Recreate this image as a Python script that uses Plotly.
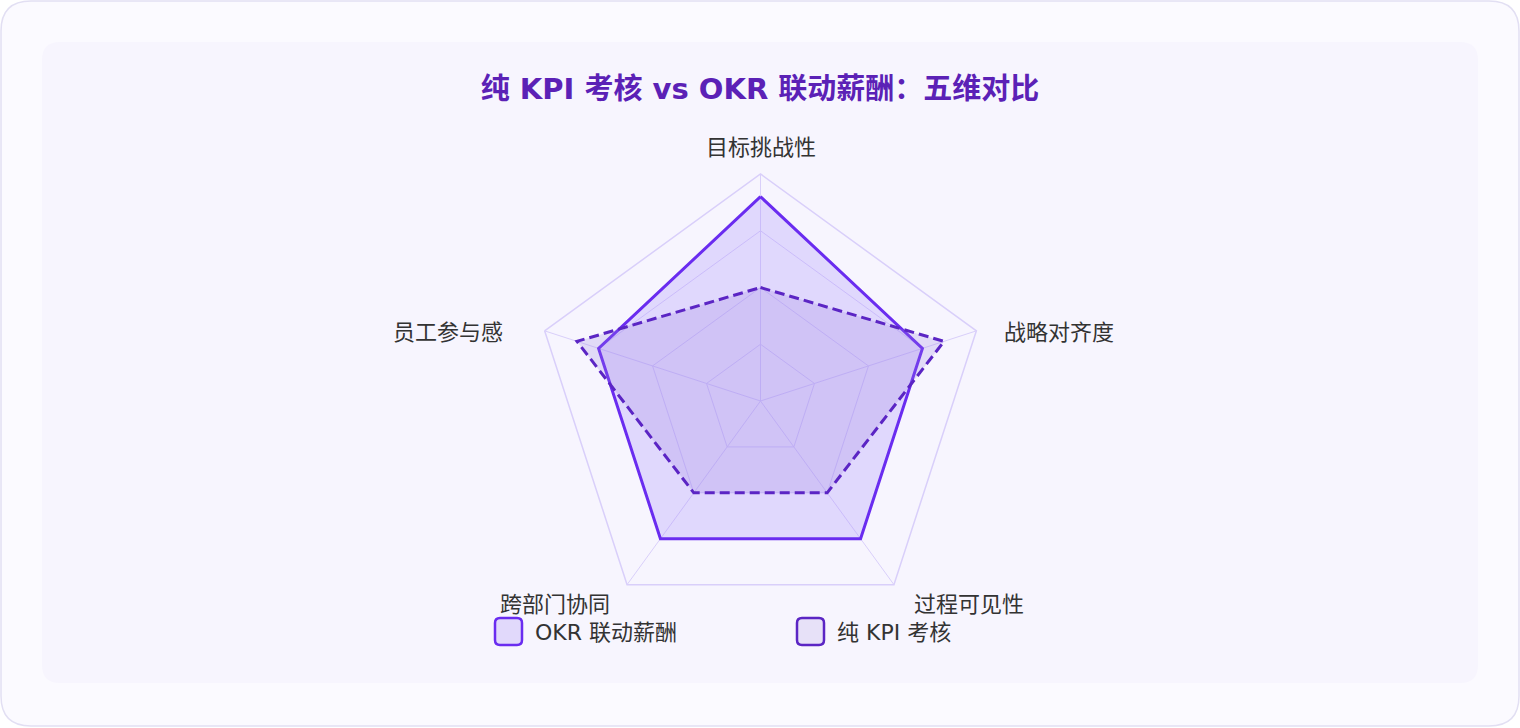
import math
import plotly.graph_objects as go

# 五个维度（顺时针，从正上方开始）
dimensions = ["目标挑战性", "战略对齐度", "过程可见性", "跨部门协同", "员工参与感"]
okr_scores = [90, 75, 75, 75, 75]
kpi_scores = [50, 85, 50, 50, 85]
series_names = ["OKR 联动薪酬", "纯 KPI 考核"]
line_colors = ["#6a2cf0", "#5b25c4"]
fill_colors = ["rgba(167,139,250,0.28)", "rgba(150,125,225,0.22)"]
legend_fills = ["#e1d9fb", "#e7e1f8"]

W, H = 1520, 728
FONT = "DejaVu Sans, Noto Sans CJK SC, sans-serif"


def px(x):
    return x / W


def py(y):
    return 1 - y / H


def rounded_rect(x0, y0, x1, y1, r):
    # 像素坐标的圆角矩形 -> paper坐标路径（margin为0）
    return (
        f"M {px(x0 + r)},{py(y0)} L {px(x1 - r)},{py(y0)} "
        f"Q {px(x1)},{py(y0)} {px(x1)},{py(y0 + r)} "
        f"L {px(x1)},{py(y1 - r)} Q {px(x1)},{py(y1)} {px(x1 - r)},{py(y1)} "
        f"L {px(x0 + r)},{py(y1)} Q {px(x0)},{py(y1)} {px(x0)},{py(y1 - r)} "
        f"L {px(x0)},{py(y0 + r)} Q {px(x0)},{py(y0)} {px(x0 + r)},{py(y0)} Z"
    )


fig = go.Figure()

for name, scores, lc, fc, dash in zip(series_names, [okr_scores, kpi_scores],
                                      line_colors, fill_colors, ["solid", "10px,5px"]):
    fig.add_trace(go.Scatterpolar(
        r=scores + scores[:1],
        theta=dimensions + dimensions[:1],
        name=name,
        mode="lines",
        fill="toself",
        fillcolor=fc,
        line=dict(color=lc, width=3, dash=dash),
        showlegend=False,
    ))

# 背景卡片
shapes = [
    dict(type="path", xref="paper", yref="paper", layer="below",
         path=rounded_rect(1, 1, 1519, 726, 30),
         fillcolor="#fbfaff", line=dict(color="#e2dff3", width=1.5)),
    dict(type="path", xref="paper", yref="paper", layer="below",
         path=rounded_rect(42, 42, 1478, 683, 18),
         fillcolor="#f7f5fe", line=dict(width=0)),
]

annotations = []

# 维度名称：放在雷达外顶点旁边
cx, cy, R = 760.5, 401, 227
label_style = [  # (xanchor, dx, dy) 相对外顶点的偏移
    ("center", 0, -26),
    ("left", 26, 2),
    ("left", 18, 20),
    ("right", -15, 20),
    ("right", -40, 2),
]
for i, (dim, (xa, dx, dy)) in enumerate(zip(dimensions, label_style)):
    ang = 2 * math.pi * i / len(dimensions)
    vx = cx + R * math.sin(ang)
    vy = cy - R * math.cos(ang)
    annotations.append(dict(text=dim, xref="paper", yref="paper",
                            x=px(vx + dx), y=py(vy + dy), xanchor=xa, yanchor="middle",
                            showarrow=False, font=dict(size=22, color="#333333")))

# 图例（圆角方块 + 文字）
for i, (name, lc, lf) in enumerate(zip(series_names, line_colors, legend_fills)):
    x0 = 495 + i * 302
    shapes.append(dict(type="path", xref="paper", yref="paper",
                       path=rounded_rect(x0, 618, x0 + 27, 645, 5),
                       fillcolor=lf, line=dict(color=lc, width=2.5)))
    annotations.append(dict(text=name, xref="paper", yref="paper",
                            x=px(x0 + 38), y=py(632), xanchor="left", yanchor="middle",
                            showarrow=False, font=dict(size=22, color="#333333")))

fig.update_layout(
    width=W,
    height=H,
    margin=dict(l=0, r=0, t=0, b=0),
    paper_bgcolor="white",
    font=dict(family=FONT, size=22, color="#333333"),
    showlegend=False,
    title=dict(
        text="<b>纯 KPI 考核 vs OKR 联动薪酬：五维对比</b>",
        x=0.5, xanchor="center",
        y=py(89), yanchor="middle",
        font=dict(size=29, color="#5b21b6"),
    ),
    polar=dict(
        bgcolor="rgba(0,0,0,0)",
        gridshape="linear",
        domain=dict(
            x=[(cx - R) / W, (cx + R) / W],
            y=[(H - cy - R) / H, (H - cy + R) / H],
        ),
        radialaxis=dict(
            range=[0, 100],
            tickvals=[25, 50, 75, 100],
            showticklabels=False,
            ticks="",
            showline=False,
            gridcolor="#d9cffa",
            gridwidth=1,
        ),
        angularaxis=dict(
            rotation=90,
            direction="clockwise",
            gridcolor="#d9cffa",
            linecolor="#d9cffa",
            linewidth=1.5,
            ticks="",
            showticklabels=False,
        ),
    ),
    shapes=shapes,
    annotations=annotations,
)

fig.write_html("out.html", config={"displayModeBar": False},
               post_script="document.body.style.margin='0';")
